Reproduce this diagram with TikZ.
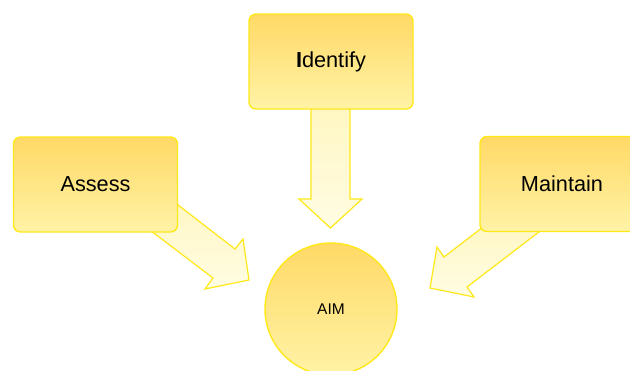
\documentclass[tikz,border=0pt]{standalone}
\usepackage{fontspec}
\setmainfont{Liberation Sans}
\definecolor{boxtop}{HTML}{FFD966}
\definecolor{boxbot}{HTML}{FFF3A6}
\definecolor{edge}{HTML}{FFE81A}
\definecolor{arrtop}{HTML}{FFF6C0}
\definecolor{arrbot}{HTML}{FFFDE4}
\tikzset{
  goalbox/.style={draw=edge, line width=1.4pt, rounded corners=7pt,
    top color=boxtop, bottom color=boxbot, minimum width=164pt, minimum height=95pt,
    inner sep=0pt, font=\fontsize{21.7}{26}\selectfont},
  aimcircle/.style={circle, draw=edge, line width=1.4pt, top color=boxtop, bottom color=boxbot,
    minimum size=132pt, inner sep=0pt, font=\fontsize{15.5}{18}\selectfont},
  blockarrow/.style={draw=edge, line width=1.2pt, top color=arrtop, bottom color=arrbot, line join=miter}
}
\begin{document}
\begin{tikzpicture}[x=1pt,y=-1pt]
\useasboundingbox (0,0) rectangle (630,370);
% block arrows (behind boxes)
\coordinate (itip) at (330.5,228);
\draw[blockarrow] (311,100) -- (311,199) -- (299,199) -- (itip) -- (362,199) -- (350,199) -- (350,100) -- cycle;
\coordinate (atip) at (249,280);
\draw[blockarrow] (160,191) -- (235,249) -- (243,239) -- (atip) -- (205,289) -- (213,278) -- (134,218) -- cycle;
\coordinate (mtip) at (430,288);
\draw[blockarrow] (500,214) -- (444,257) -- (437,247) -- (mtip) -- (474,297) -- (467,287) -- (556,219) -- cycle;
% boxes
\node[goalbox] (identify) at (331,61.5) {{\bfseries I}dentify};
\node[goalbox] (assess) at (95.5,184.5) {Assess};
\node[goalbox] (maintain) at (562,184) {Maintain};
\node[aimcircle] (aim) at (331,309) {AIM};
\end{tikzpicture}
\end{document}
